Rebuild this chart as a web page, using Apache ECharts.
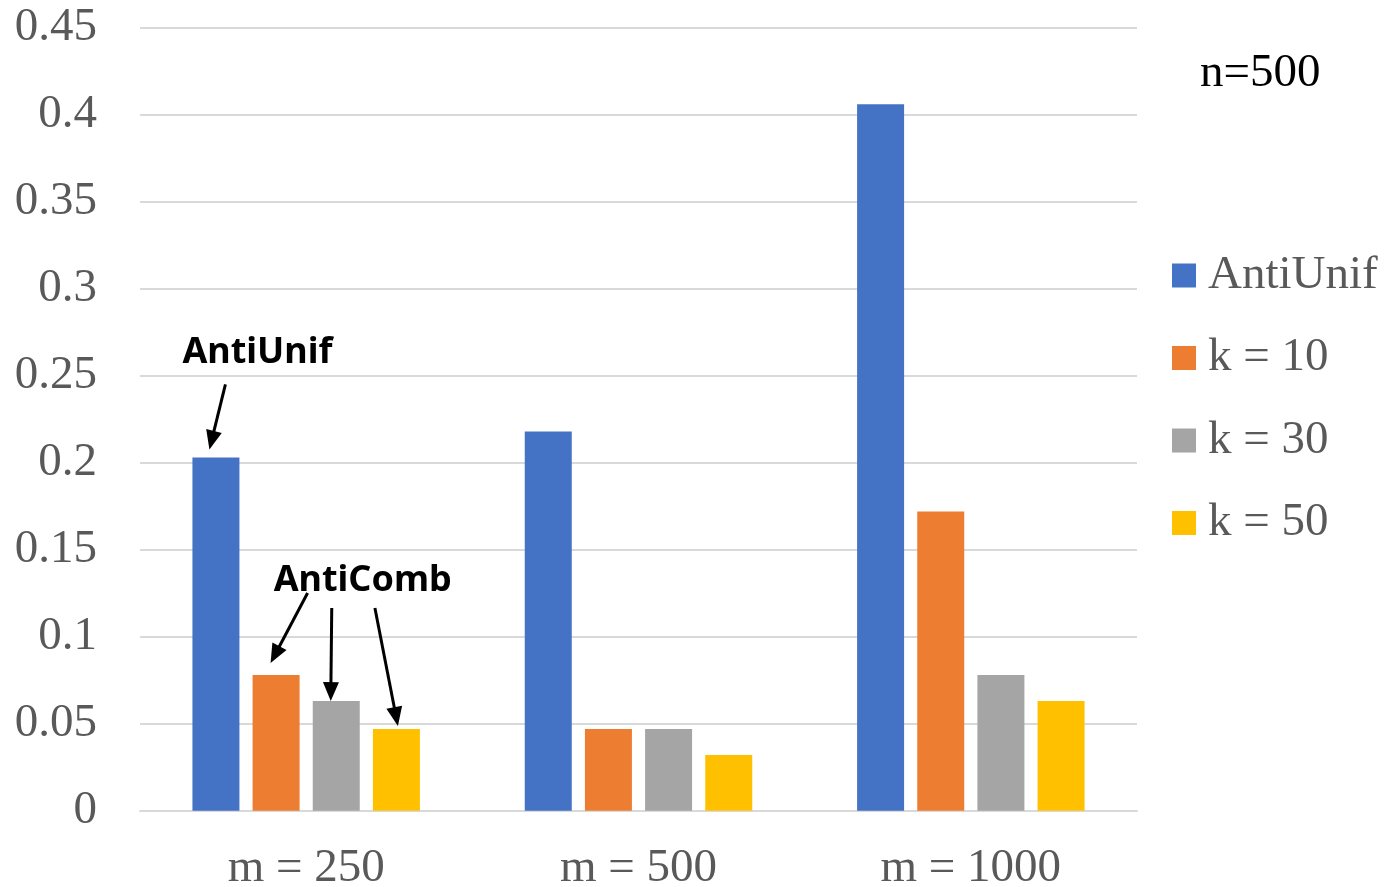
<!DOCTYPE html>
<html>
<head>
<meta charset="utf-8">
<script src="https://cdn.jsdelivr.net/npm/echarts@6/dist/echarts.min.js"></script>
<style>
  html, body { margin: 0; padding: 0; background: #fff; }
  #chart { width: 1390px; height: 887px; }
</style>
</head>
<body>
<div id="chart"></div>
<script>
// Categories and series values
const categories = ['m = 250', 'm = 500', 'm = 1000'];
const seriesNames = ['AntiUnif', 'k = 10', 'k = 30', 'k = 50'];
const antiUnif = [0.203, 0.218, 0.406];
const k10 = [0.078, 0.047, 0.172];
const k30 = [0.063, 0.047, 0.078];
const k50 = [0.047, 0.032, 0.063];
const yTicks = { min: 0, max: 0.45, interval: 0.05 };
const subtitle = 'n=500';
const noteSingle = 'AntiUnif';
const noteGroup = 'AntiComb';

const colors = ['#4472C4', '#ED7D31', '#A5A5A5', '#FFC000'];
const serif = '"Liberation Serif", "Times New Roman", serif';
const values = [antiUnif, k10, k30, k50];

const chart = echarts.init(document.getElementById('chart'), null, { renderer: 'canvas' });

const option = {
  animation: false,
  backgroundColor: '#ffffff',
  title: {
    text: subtitle,
    left: 1200,
    top: 50,
    padding: 0,
    textStyle: { fontFamily: serif, fontSize: 47, fontWeight: 'normal', color: '#000000' }
  },
  legend: {
    orient: 'vertical',
    left: 1172,
    top: 252,
    padding: 0,
    itemWidth: 24,
    itemHeight: 24,
    itemGap: 35.5,
    icon: 'rect',
    data: seriesNames,
    textStyle: {
      fontFamily: serif, fontSize: 47, color: '#595959',
      lineHeight: 47, padding: [0, 0, 0, 7]
    }
  },
  grid: {
    left: 140, right: 253, top: 27.7, bottom: 76.3,
    containLabel: false, outerBoundsMode: 'none'
  },
  xAxis: {
    type: 'category',
    data: categories,
    axisTick: { show: false },
    axisLine: { show: true, lineStyle: { color: '#d9d9d9', width: 2 } },
    axisLabel: { fontFamily: serif, fontSize: 47, color: '#595959', margin: 34 }
  },
  yAxis: {
    type: 'value',
    min: yTicks.min,
    max: yTicks.max,
    interval: yTicks.interval,
    axisLine: { show: false },
    axisTick: { show: false },
    splitLine: { lineStyle: { color: '#d9d9d9', width: 2 } },
    axisLabel: {
      fontFamily: serif, fontSize: 47, color: '#595959', margin: 43,
      formatter: v => String(Math.round(v * 100) / 100)
    }
  },
  series: seriesNames.map((name, i) => ({
    name,
    type: 'bar',
    data: values[i],
    barWidth: 47,
    barGap: '28%',
    itemStyle: { color: colors[i] }
  }))
};

chart.setOption(option);

// Annotation arrows, anchored to the laid-out bars of the first category
function barTop(seriesIndex, dataIndex) {
  const layout = chart.getModel().getSeriesByIndex(seriesIndex).getData().getItemLayout(dataIndex);
  return {
    cx: layout.x + layout.width / 2,
    top: Math.min(layout.y, layout.y + layout.height)
  };
}

function arrow(x1, y1, x2, y2) {
  const headLen = 19, headHalf = 8;
  const dx = x2 - x1, dy = y2 - y1;
  const len = Math.sqrt(dx * dx + dy * dy);
  const ux = dx / len, uy = dy / len;
  const bx = x2 - ux * headLen, by = y2 - uy * headLen;
  return [
    {
      type: 'line',
      shape: { x1, y1, x2: bx + ux * 2, y2: by + uy * 2 },
      style: { stroke: '#000', lineWidth: 3 },
      z: 100
    },
    {
      type: 'polygon',
      shape: { points: [[x2, y2], [bx - uy * headHalf, by + ux * headHalf], [bx + uy * headHalf, by - ux * headHalf]] },
      style: { fill: '#000' },
      z: 100
    }
  ];
}

// [seriesIndex, start offset, tip offset] relative to bar top-centre
const arrowSpecs = [
  [0, [9.5, -73], [-6.5, -8]],
  [1, [31.5, -82], [-5.5, -12]],
  [2, [-4.5, -93], [-5.5, 0]],
  [3, [-21.5, -121], [1.5, -3]]
];

const elements = [];
arrowSpecs.forEach(([s, a, b]) => {
  const p = barTop(s, 0);
  elements.push(...arrow(p.cx + a[0], p.top + a[1], p.cx + b[0], p.top + b[1]));
});

const noteFont = 'bold 36px "Noto Sans", "DejaVu Sans", sans-serif';
const pBlue = barTop(0, 0);
const pGray = barTop(2, 0);
elements.push({
  type: 'text',
  x: pBlue.cx + 41.5, y: pBlue.top - 105,
  style: { text: noteSingle, font: noteFont, fill: '#000', align: 'center', verticalAlign: 'middle' },
  z: 100
});
elements.push({
  type: 'text',
  x: pGray.cx + 26.5, y: pGray.top - 120,
  style: { text: noteGroup, font: noteFont, fill: '#000', align: 'center', verticalAlign: 'middle' },
  z: 100
});

chart.setOption({ graphic: { elements } });
</script>
</body>
</html>
